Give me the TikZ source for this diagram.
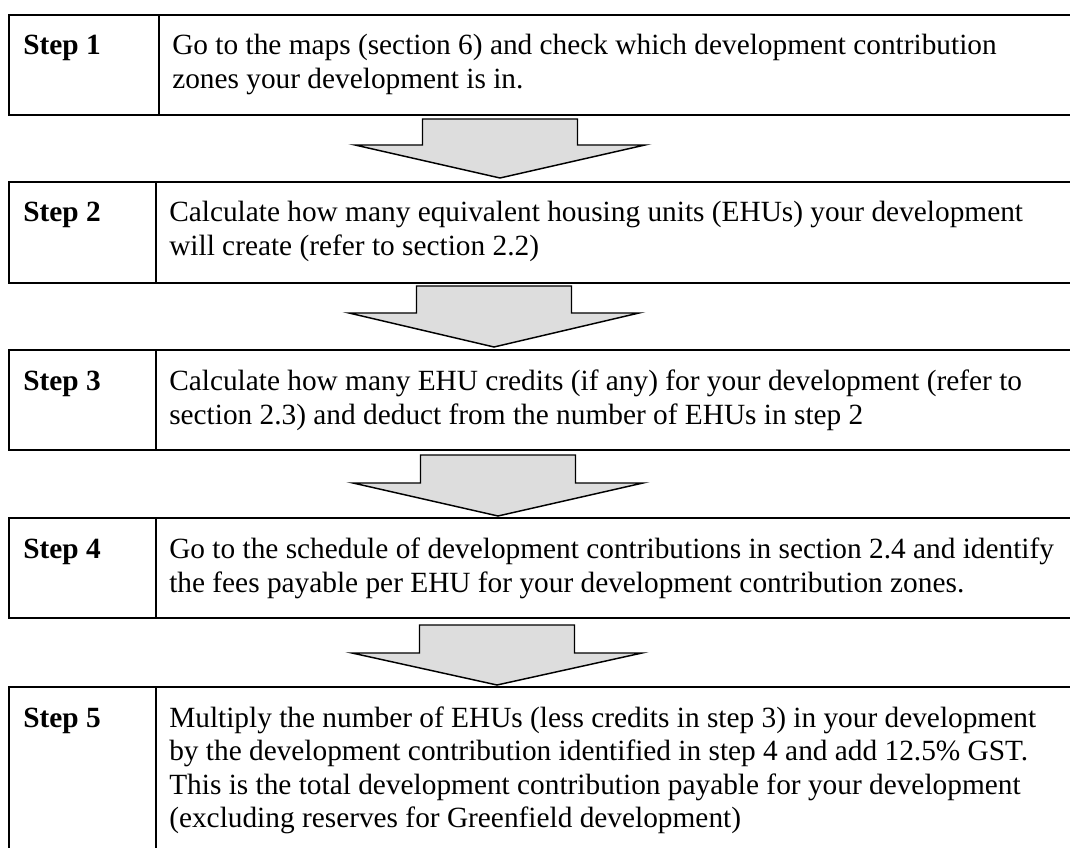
\documentclass[tikz,border=0pt]{standalone}
\usepackage{fontspec}
\setmainfont{Liberation Serif}
\usetikzlibrary{calc}
\begin{document}
\begin{tikzpicture}[x=0.75pt,y=-0.75pt,
  cell/.style={draw=black,line width=1.7pt,rectangle,inner sep=0pt,anchor=north west},
  lbl/.style={anchor=base west,inner sep=0pt,font=\fontsize{22}{25}\selectfont\bfseries},
  txt/.style={anchor=base west,inner sep=0pt,font=\fontsize{22}{25}\selectfont},
  blk/.style={draw=black,line width=1.1pt,fill=gray!27,line join=miter}]
\useasboundingbox (0,0) rectangle (1070,848);
\clip (0,0) rectangle (1070,848);
% step boxes: left cells and right cells
\node[cell,minimum width=150*0.75pt,minimum height=100*0.75pt] (l1) at (8,14) {};
\node[cell,minimum width=930*0.75pt,minimum height=100*0.75pt] (r1) at (158,14) {};
\node[cell,minimum width=147*0.75pt,minimum height=101*0.75pt] (l2) at (8,181) {};
\node[cell,minimum width=930*0.75pt,minimum height=101*0.75pt] (r2) at (155,181) {};
\node[cell,minimum width=147*0.75pt,minimum height=100*0.75pt] (l3) at (8,349) {};
\node[cell,minimum width=930*0.75pt,minimum height=100*0.75pt] (r3) at (155,349) {};
\node[cell,minimum width=147*0.75pt,minimum height=100*0.75pt] (l4) at (8,517) {};
\node[cell,minimum width=930*0.75pt,minimum height=100*0.75pt] (r4) at (155,517) {};
\node[cell,minimum width=147*0.75pt,minimum height=200*0.75pt] (l5) at (8,686) {};
\node[cell,minimum width=930*0.75pt,minimum height=200*0.75pt] (r5) at (155,686) {};
% labels
\node[lbl] (s1) at (23,55) {Step 1};
\node[lbl] (s2) at (23,222) {Step 2};
\node[lbl] (s3) at (23,390) {Step 3};
\node[lbl] (s4) at (23,558) {Step 4};
\node[lbl] (s5) at (23,727) {Step 5};
% texts
\node[txt] (t1a) at (172,55) {Go to the maps (section 6) and check which development contribution};
\node[txt] (t1b) at (172,89) {zones your development is in.};
\node[txt] (t2a) at (169,222) {Calculate how many equivalent housing units (EHUs) your development};
\node[txt] (t2b) at (169,256) {will create (refer to section 2.2)};
\node[txt] (t3a) at (169,390) {Calculate how many EHU credits (if any) for your development (refer to};
\node[txt] (t3b) at (169,424) {section 2.3) and deduct from the number of EHUs in step 2};
\node[txt] (t4a) at (169,558) {Go to the schedule of development contributions in section 2.4 and identify};
\node[txt] (t4b) at (169,592) {the fees payable per EHU for your development contribution zones.};
\node[txt] (t5a) at (169,727) {Multiply the number of EHUs (less credits in step 3) in your development};
\node[txt] (t5b) at (169,760.5) {by the development contribution identified in step 4 and add 12.5\% GST.};
\node[txt] (t5c) at (169,794) {This is the total development contribution payable for your development};
\node[txt] (t5d) at (169,827.5) {(excluding reserves for Greenfield development)};
% block arrows
\newcommand{\blockarrow}[4]{%
  \draw[blk] (#1-77.5,#2) -- (#1+77.5,#2) -- (#1+77.5,#3) -- (#1+145,#3) -- (#1,#4) -- (#1-145,#3) -- (#1-77.5,#3) -- cycle;}
\blockarrow{500}{119}{145}{178}
\blockarrow{494}{286}{313}{347}
\blockarrow{498}{455}{483}{516}
\blockarrow{497}{625}{653}{685}
\end{tikzpicture}
\end{document}
